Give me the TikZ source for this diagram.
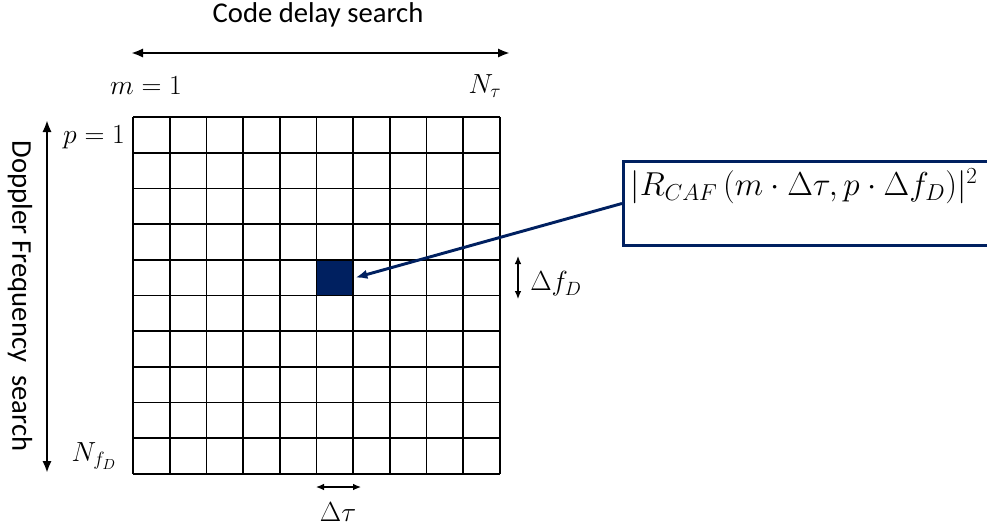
\documentclass[tikz,border=0pt]{standalone}
\usepackage{fontspec}
\setmainfont{Carlito}
\usetikzlibrary{arrows.meta}
\definecolor{navy}{RGB}{0,32,96}
\begin{document}
\begin{tikzpicture}[x=0.75pt,y=-0.75pt,
  gridline/.style={black, line width=1.3pt},
  bigarrow/.style={black, line width=2pt, {Latex[length=9pt,width=7pt]}-{Latex[length=9pt,width=7pt]}},
  smallarrow/.style={black, line width=0.9pt, {Latex[length=6pt,width=5pt]}-{Latex[length=6pt,width=5pt]}},
  lbl/.style={font=\fontsize{21.5}{24}\selectfont, inner sep=1pt}]
\clip (0,0) rectangle (987,526);
\useasboundingbox (0,0) rectangle (987,526);

% search grid
\foreach \i in {0,...,10} {
  \draw[gridline] (133+\i*36.7,117) -- (133+\i*36.7,474);
  \draw[gridline] (133,117+\i*35.7) -- (500,117+\i*35.7);
}
\node[fill=navy, draw=black, line width=1.3pt, inner sep=0pt, minimum width=27.5pt, minimum height=26.8pt] (cell) at (334.85,277.65) {};

% code delay axis
\coordinate (tl) at (131,53) ;\coordinate (tr) at (510,53);
\draw[bigarrow] (tl) -- (tr);
\node[lbl] (title) at (318,15) {Code delay search};
\node[lbl] (m1) at (146,86) {$m=1$};
\node[lbl] (Ntau) at (485,86) {$N_\tau$};

% doppler axis
\coordinate (vt) at (47,120) ;\coordinate (vb) at (47,473);
\draw[bigarrow] (vt) -- (vb);
\node[lbl, rotate=-90] (dop) at (20,296) {Doppler Frequency\ \ search};
\node[lbl] (p1) at (94,137) {$p=1$};
\node[lbl] (NfD) at (94,456) {$N_{f_D}$};

% cell size
\coordinate (dft) at (518,256) ;\coordinate (dfb) at (518,299);
\draw[smallarrow] (dft) -- (dfb);
\node[lbl] (dfD) at (556,284) {$\Delta f_D$};
\coordinate (dtl) at (316,487) ;\coordinate (dtr) at (361,487);
\draw[smallarrow] (dtl) -- (dtr);
\node[lbl] (dtau) at (338,512) {$\Delta\tau$};

% caf value
\node[draw=navy, line width=2.2pt, anchor=north west, minimum width=330pt, minimum height=63pt] (caf) at (622,160) {};
\node[lbl, anchor=west, font=\fontsize{23.5}{26}\selectfont] (formula) at (629,186) {$|R_{CAF}\,(m\cdot\Delta\tau, p\cdot\Delta f_D)|^2$};
\draw[navy, line width=2.2pt, -{Latex[length=9pt,width=7pt]}] (caf.west) -- ([xshift=1pt]cell.east);
\end{tikzpicture}
\end{document}
